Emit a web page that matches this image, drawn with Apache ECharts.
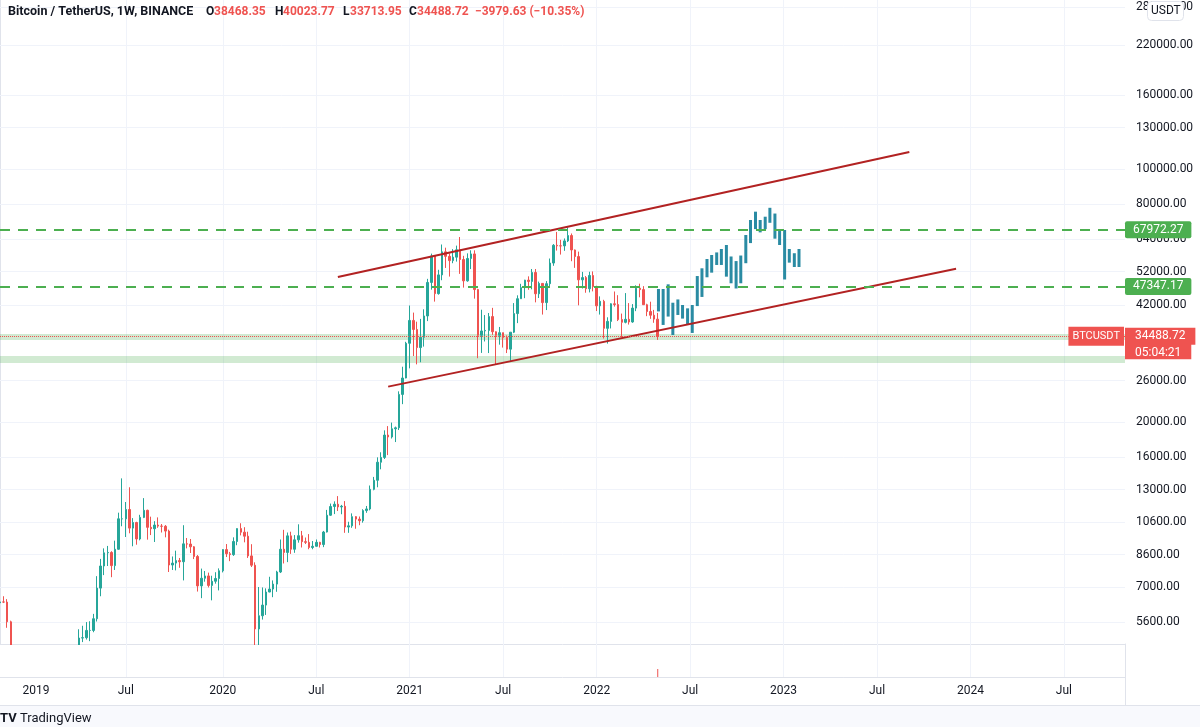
<!DOCTYPE html>
<html><head><meta charset="utf-8">
<script src="https://cdn.jsdelivr.net/npm/echarts@6/dist/echarts.min.js"></script>
<style>html,body{margin:0;padding:0;background:#fff;}#c{width:1200px;height:727px;}</style>
</head><body><div id="c"></div>
<script>
// ---------- DATA ----------
const firstWeek = '2018-10-29';
const weekCount = 314;
// weekly candles [open, high, low, close], one per week from firstWeek
const ohlc = [
[6330,6490,6270,6365],[6365,6600,6320,6360],[6360,6480,5400,5610],[5610,5650,3650,4010],[4010,4400,3590,3815],
[3815,4120,3270,3500],[3500,3600,3150,3250],[3250,4240,3240,3980],[3980,4200,3550,3820],[3820,4100,3650,4045],
// 2019
[4045,4140,3500,3540],[3540,3750,3450,3540],[3540,3650,3420,3530],[3530,3600,3350,3410],[3410,3700,3375,3670],
[3670,3700,3570,3670],[3670,4200,3650,3810],[3810,3900,3680,3860],[3860,3970,3690,3950],[3950,4080,3820,4010],
[4010,4090,3880,3980],[3980,4140,3935,4120],[4120,5350,4100,5060],[5060,5470,4930,5070],[5070,5600,5010,5310],
[5310,5630,4960,5310],[5310,5900,5250,5720],[5720,7500,5620,6950],[6950,8370,6600,8000],[8000,8950,7550,8700],
[8700,9090,8000,8720],[8720,8790,7450,8020],[8020,9400,7800,8900],[8900,11230,8870,10800],[10800,13970,10300,10800],
[10800,12020,9620,11460],[11460,13200,9850,10180],[10180,10850,9070,10550],[10550,10600,9160,9500],[9500,11080,9420,10900],
[10900,12320,10850,11400],[11400,11450,9460,10230],[10230,10950,9740,10140],[10140,10640,9320,10380],[10380,10900,10200,10310],
[10310,10450,9900,10300],[10300,10380,9600,9990],[9990,10080,7700,8050],[8050,8500,7800,8150],[8150,8820,7780,8280],
[8280,8420,7910,8220],[8220,10370,7300,9210],[9210,9560,8950,9200],[9200,9500,8690,9040],[9040,9080,8360,8500],
[8500,8580,6800,7050],[7050,7870,6520,7400],[7400,7750,7240,7510],[7510,7670,6980,7070],[7070,7520,6430,7260],
[7260,7690,7150,7390],[7390,7880,6850,7760],
// 2020
[7760,8900,7680,8880],[8880,9200,8470,8650],[8650,8750,8250,8600],[8600,9600,8530,9350],[9350,10160,9130,10150],
[10150,10500,9720,9920],[9920,10240,9300,9670],[9670,9950,8420,8530],[8530,9190,7950,8040],[8040,8190,3780,5360],
[5360,7000,4450,5830],[5830,6980,5690,6240],[6240,6940,5860,6780],[6780,7470,6770,6910],[6910,7300,6560,7130],
[7130,7760,6790,7700],[7700,9470,7650,8900],[8900,10070,8130,8720],[8720,9900,8200,9690],[9690,9950,8640,8900],
[8900,9740,8700,9450],[9450,10430,9280,9700],[9700,10000,9000,9340],[9340,9590,9200,9300],[9300,9800,8900,9000],
[9000,9380,8900,9070],[9070,9470,9050,9300],[9300,9330,9000,9170],[9170,10000,9020,9930],[9930,11430,9900,11050],
[11050,11900,11000,11680],[11680,12070,11130,11850],[11850,12480,11350,11650],[11650,11800,11120,11700],[11700,12090,9880,10250],
[10250,10600,9880,10330],[10330,11180,10200,10950],[10950,10990,10140,10780],[10780,10960,10370,10670],[10670,11480,10540,11380],
[11380,11720,11220,11500],[11500,13350,11400,13030],[13030,14100,12950,13800],[13800,15970,13200,15480],[15480,16490,14800,15960],
[15960,18960,15800,18400],[18400,19480,16200,18180],[18180,19920,18000,19150],[19150,19420,17600,19270],[19270,24300,19000,23830],
[23830,28420,22400,26450],[26450,33300,26400,32990],
// 2021
[32990,41950,28130,38150],[38150,40100,30420,36020],[36020,37850,28850,32100],[32100,38530,29240,34270],[34270,40950,32300,39250],
[39250,49700,37990,48580],[48580,58350,46400,57490],[57490,57530,43000,45240],[45240,52650,44950,50970],[50970,61840,49270,59020],
[59020,60600,53270,57350],[57350,58440,50430,55820],[55820,60040,54900,57060],[57060,61400,55470,59770],[59770,64850,51300,56210],
[56210,57550,47000,49070],[49070,58450,48800,56580],[56580,59600,52900,58240],[58240,59600,43820,46430],[46430,46640,30000,34700],
[34700,40840,31030,35680],[35680,39480,33370,35800],[35800,39990,31000,39100],[39100,41330,34800,35500],[35500,35600,28800,34700],
[34700,36600,32700,35290],[35290,35290,32100,34250],[34250,34680,31000,31780],[31780,35400,29280,35400],[35400,42600,35200,39850],
[39850,44760,37500,43800],[43800,48150,43800,47000],[47000,49400,43950,49300],[49300,50500,46370,48900],[48900,52920,46500,51770],
[51770,52920,42800,45200],[45200,48840,44000,48280],[48280,48350,39600,42730],[42730,49000,40750,48200],[48200,56560,46900,54960],
[54960,62000,54000,61530],[61530,67000,59500,61310],[61310,63710,58000,61300],[61300,64270,59400,63270],[63270,69000,62800,65470],
[65470,66330,55600,59720],[59720,59900,53300,57270],[57270,59100,42000,49390],[49390,51950,46750,50100],[50100,50600,45500,46680],
[46680,52000,45600,50780],[50780,52100,45900,47290],
// 2022
[47290,47570,40500,41860],[41860,44460,39600,43080],[43080,43500,34000,36280],[36280,38920,32920,37920],[37920,42550,36250,42410],
[42410,45860,41650,42200],[42200,44800,38000,38350],[38350,39850,34320,37700],[37700,45400,37450,38420],[38420,42600,37160,37780],
[37780,42330,37580,41260],[41260,47700,40470,46830],[46830,48190,44200,46410],[46410,47450,42100,42160],[42160,42420,39200,40380],
[40380,42980,38540,39440],[39440,40800,37580,38470],[38468.35,40023.77,33713.95,34488.72]
];
// projected "bars pattern" (position in weeks from firstWeek, low, high)
const patternWeek = [183.2,184.5,185.9,187.2,188.6,189.9,191.3,192.6,194.0,195.3,196.7,198.0,199.4,200.7,202.1,203.4,204.8,206.1,207.5,208.8,210.2,211.5,212.9,214.2,215.6,216.9,218.3,219.6,221.0,222.3];
const patternLow  = [40400,37070,39100,34780,39500,38600,37070,35230,41800,44300,50200,51700,54290,54290,50400,48320,46750,48320,54900,62400,68200,66800,68200,71000,64170,61650,49500,55100,53600,53600];
const patternHigh = [46600,46600,48000,42700,43600,42090,41200,42090,50600,53150,56400,57850,58800,60100,61650,57300,55650,57650,65700,72270,76200,72270,73800,78100,75300,68200,67820,60100,58500,60100];
const yTicks = [5600,7000,8600,10600,13000,16000,20000,26000,42000,52000,64000,80000,100000,130000,160000,220000,280000];
const levels = [67972.27, 47347.17];
const zones = [[33680, 35000],[29100, 30430]];
const upperTrend = [['2020-08-17', 50300], ['2023-09-04', 111400]];
const lowerTrend = [['2020-11-23', 25040], ['2023-12-04', 53020]];
const countdown = '05:04:21';
const yMin = 4871, yMax = 292900;

// ---------- BUILD ----------
const weeks = [];
const t0 = Date.parse(firstWeek + 'T00:00:00Z');
for (let i = 0; i < weekCount; i++) weeks.push(new Date(t0 + i * 7 * 864e5).toISOString().slice(0, 10));
const candleData = ohlc.map(r => [r[0], r[3], r[2], r[1]]);
const last = ohlc[ohlc.length - 1];
const lastDate = weeks[ohlc.length - 1];
const chg = last[3] - last[0];
const fmt = v => v.toFixed(2);
const sgn = v => (v < 0 ? '\u2212' : '+');
const isLabelWeek = (i, v) => { const m = +v.slice(5, 7), d = +v.slice(8, 10); return (m === 1 || m === 7) && d <= 7; };
const UP = '#26a69a', DOWN = '#ef5350', TEAL = '#2a8ba3', TXT = '#131722', GRID = '#f0f3fa', BORDER = '#e0e3eb';
const FONT = 'Roboto';
const NONE = 'rgba(0,0,0,0)';

const chart = echarts.init(document.getElementById('c'), null, { renderer: 'canvas' });
const option = {
  animation: false,
  backgroundColor: '#ffffff',
  textStyle: { fontFamily: FONT },
  title: {
    left: 8, top: 5, padding: 0,
    text: '{t|Bitcoin / TetherUS, 1W, BINANCE}{k|O}{v1|' + fmt(last[0]) + '}{k|H}{v2|' + fmt(last[1]) + '}{k2|L}{v3|' + fmt(last[2]) + '}{k|C}{v4|' + fmt(last[3]) + '}{v|' + sgn(chg) + fmt(Math.abs(chg)) + ' (' + sgn(chg) + fmt(Math.abs(chg / last[0] * 100)) + '%)}',
    textStyle: { rich: {
      t: { color: TXT, fontSize: 12.5, fontFamily: FONT, width: 198 },
      k: { color: TXT, fontSize: 12, fontFamily: FONT, width: 8 },
      k2: { color: TXT, fontSize: 12, fontFamily: FONT, width: 7 },
      v1: { color: DOWN, fontSize: 12, fontFamily: FONT, width: 61 },
      v2: { color: DOWN, fontSize: 12, fontFamily: FONT, width: 60 },
      v3: { color: DOWN, fontSize: 12, fontFamily: FONT, width: 59 },
      v4: { color: DOWN, fontSize: 12, fontFamily: FONT, width: 58 },
      v: { color: DOWN, fontSize: 12, fontFamily: FONT }
    } }
  },
  grid: [
    { left: 0, right: 75, top: 0, bottom: 83 },
    { left: 0, right: 75, top: 644, height: 33 }
  ],
  xAxis: [
    { type: 'category', gridIndex: 0, data: weeks, boundaryGap: false,
      axisLine: { show: true, lineStyle: { color: BORDER } }, axisTick: { show: false }, axisLabel: { show: false },
      splitLine: { show: true, showMinLine: false, interval: isLabelWeek, lineStyle: { color: GRID, width: 1 } } },
    { type: 'category', gridIndex: 1, data: weeks, boundaryGap: false, z: 10,
      axisLine: { show: true, lineStyle: { color: BORDER } }, axisTick: { show: false },
      axisLabel: { show: true, interval: isLabelWeek, margin: 8, color: TXT, fontSize: 12, fontFamily: FONT,
        formatter: v => (+v.slice(5, 7) === 1 ? v.slice(0, 4) : 'Jul') },
      splitLine: { show: true, showMinLine: false, interval: isLabelWeek, lineStyle: { color: GRID, width: 1 } } },
    { type: 'value', gridIndex: 0, min: 0, max: weekCount - 1, show: false }
  ],
  yAxis: [
    { type: 'log', logBase: 10, gridIndex: 0, min: yMin, max: yMax, position: 'right',
      axisLine: { show: true, lineStyle: { color: BORDER } }, axisTick: { show: false }, axisLabel: { show: false }, splitLine: { show: false } },
    { type: 'value', gridIndex: 1, position: 'right', min: 0, max: 1, z: 10,
      axisLine: { show: true, lineStyle: { color: BORDER } }, axisTick: { show: false }, axisLabel: { show: false }, splitLine: { show: false } }
  ],
  series: [
    { type: 'line', xAxisIndex: 0, yAxisIndex: 0, data: [], silent: true,
      markLine: { z: 1, silent: true, symbol: 'none', animation: false,
        lineStyle: { color: GRID, width: 1, type: 'solid' },
        label: { show: true, position: 'end', distance: 11, color: TXT, fontSize: 12, fontFamily: FONT },
        data: yTicks.map(v => ({ yAxis: v, label: { formatter: fmt(v) } })) } },
    { type: 'candlestick', xAxisIndex: 0, yAxisIndex: 0, data: candleData, barWidth: 2, clip: true,
      itemStyle: { color: UP, color0: DOWN, borderColor: UP, borderColor0: DOWN, borderWidth: 1 },
      markArea: { silent: true, z: 1, itemStyle: { color: 'rgba(76,175,80,0.26)' },
        data: zones.map(z => [{ yAxis: z[0] }, { yAxis: z[1] }]) },
      markLine: { silent: true, symbol: 'none', animation: false, z: 5,
        data: [
          [{ coord: upperTrend[0], lineStyle: { color: '#b22222', width: 2, type: 'solid' }, label: { show: false } }, { coord: upperTrend[1] }],
          [{ coord: lowerTrend[0], lineStyle: { color: '#b22222', width: 2, type: 'solid' }, label: { show: false } }, { coord: lowerTrend[1] }],
          ...levels.map(v => ({ yAxis: v, lineStyle: { color: '#4caf50', width: 2, type: [10, 8] },
            label: { show: true, position: 'end', distance: 0, formatter: fmt(v), color: '#fff', backgroundColor: '#4caf50',
              padding: [3, 8, 2, 8], borderRadius: 2, fontSize: 12, fontFamily: FONT } })),
          { yAxis: last[3], lineStyle: { color: DOWN, width: 1, type: 'dotted' },
            label: { show: true, position: 'end', distance: 0, formatter: countdown, color: '#fff', backgroundColor: DOWN,
              verticalAlign: 'top', padding: [10, 10, 0, 10], lineHeight: 13, fontSize: 12, fontFamily: FONT } },
          { yAxis: last[3], lineStyle: { color: NONE, width: 0 },
            label: { show: true, position: 'end', distance: 0, formatter: fmt(last[3]), color: '#fff', backgroundColor: DOWN,
              verticalAlign: 'middle', padding: [2, 10, 1, 10], lineHeight: 14, fontSize: 12, fontFamily: FONT } },
          { yAxis: last[3], lineStyle: { color: NONE, width: 0 },
            label: { show: true, position: 'end', distance: -1, align: 'right', formatter: 'BTCUSDT', color: '#fff', backgroundColor: DOWN,
              verticalAlign: 'middle', padding: [3, 4, 2, 4], lineHeight: 14, fontSize: 11, fontFamily: FONT } }
        ] } },
    { type: 'custom', xAxisIndex: 2, yAxisIndex: 0, silent: true, z: 3,
      data: patternWeek.map((w, i) => [w, patternLow[i], patternHigh[i]]),
      encode: { x: 0, y: [1, 2] },
      renderItem: (params, api) => {
        const x = api.value(0), lo = api.value(1), hi = api.value(2);
        const p1 = api.coord([x, hi]), p2 = api.coord([x, lo]);
        return { type: 'rect', shape: { x: p1[0] - 1.5, y: p1[1], width: 3, height: p2[1] - p1[1] }, style: { fill: TEAL } };
      } }
  ]
};
chart.setOption(option);

const curX = chart.convertToPixel({ xAxisIndex: 1 }, lastDate);
chart.setOption({ graphic: [
  { type: 'rect', z: 5, shape: { x: 0, y: 645, width: 1125, height: 61 }, style: { fill: '#ffffff' } },
  { type: 'line', z: 6, shape: { x1: 1125.5, y1: 677, x2: 1125.5, y2: 706 }, style: { stroke: BORDER, lineWidth: 1 } },
  { type: 'rect', z: 6, shape: { x: 0, y: 706, width: 1200, height: 21 }, style: { fill: '#f8f9fd' } },
  { type: 'line', z: 6, shape: { x1: 0, y1: 705.5, x2: 1200, y2: 705.5 }, style: { stroke: BORDER, lineWidth: 1 } },
  { type: 'text', z: 7, left: 0, top: 712, style: { text: 'TV', fill: TXT, font: 'bold 13px ' + FONT } },
  { type: 'text', z: 7, left: 20, top: 712, style: { text: 'TradingView', fill: TXT, font: '13px ' + FONT } },
  { type: 'line', z: 20, shape: { x1: curX, y1: 669, x2: curX, y2: 677 }, style: { stroke: DOWN, lineWidth: 1 } },
  { type: 'rect', z: 100, shape: { x: 1147.5, y: 1.5, width: 36, height: 19, r: 4 }, style: { fill: '#fff', stroke: BORDER, lineWidth: 1 } },
  { type: 'text', z: 101, left: 1151, top: 5, style: { text: 'USDT', fill: TXT, font: '12px ' + FONT } }
] });
</script></body></html>
